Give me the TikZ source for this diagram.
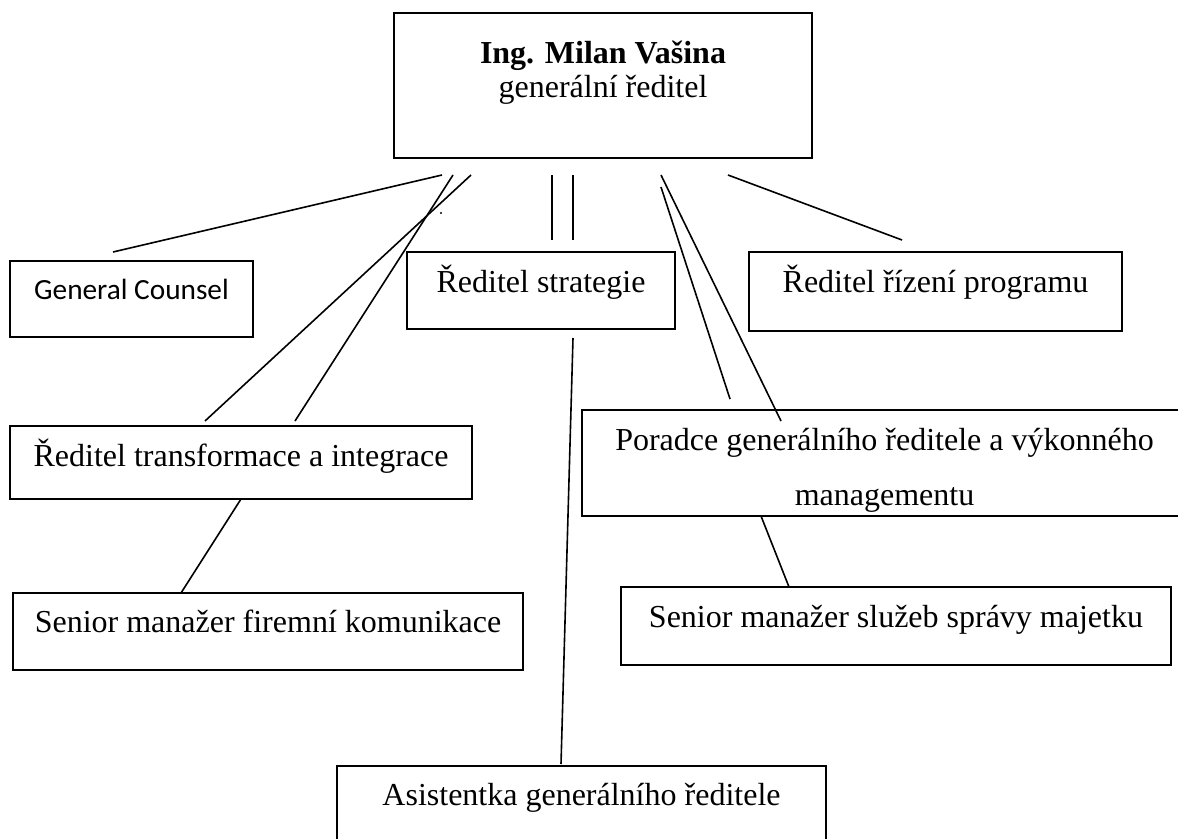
\documentclass[tikz,border=0pt]{standalone}
\usepackage{fontspec}
\setmainfont{Liberation Serif}
\newfontfamily\calibrifont{Carlito}
\begin{document}
\begin{tikzpicture}[x=1pt,y=-1pt,
  box/.style={draw, line width=2pt, inner sep=0pt, outer sep=0pt, anchor=north west},
  lbl/.style={anchor=base, inner sep=0pt, font=\fontsize{32}{34}\selectfont},
  sanslbl/.style={anchor=base, inner sep=0pt, font=\calibrifont\fontsize{29.3}{32}\selectfont},
  conn/.style={line width=1.6pt}]
\useasboundingbox (0,0) rectangle (1178,838);

% boxes
\node[box, minimum width=418pt, minimum height=145pt] (ceo) at (394,13) {};
\node[box, minimum width=243pt, minimum height=76pt] (gc) at (10,261) {};
\node[box, minimum width=268pt, minimum height=77pt] (strat) at (407,252) {};
\node[box, minimum width=373pt, minimum height=79pt] (prog) at (749,252) {};
\node[box, minimum width=462pt, minimum height=73pt] (trans) at (10,426) {};
\node[box, minimum width=605pt, minimum height=106pt] (porad) at (582,410) {};
\node[box, minimum width=510pt, minimum height=77pt] (komun) at (13,593) {};
\node[box, minimum width=550pt, minimum height=78pt] (majet) at (621,587) {};
\node[box, minimum width=489pt, minimum height=110pt] (asist) at (337,766) {};

% texts
\node[lbl, font=\fontsize{32}{34}\selectfont\bfseries] (ceoname) at (603,63) {Ing. Milan Vašina};
\node[lbl] (ceotitle) at (603,97) {generální ředitel};
\node[sanslbl] (gct) at (131.5,299) {General Counsel};
\node[lbl] (stratt) at (541,292) {Ředitel strategie};
\node[lbl] (progt) at (935.5,292) {Ředitel řízení programu};
\node[lbl] (transt) at (241,466) {Ředitel transformace a integrace};
\node[lbl] (poradt1) at (884.5,450) {Poradce generálního ředitele a výkonného};
\node[lbl] (poradt2) at (884.5,505) {managementu};
\node[lbl] (komunt) at (268,632) {Senior manažer firemní komunikace};
\node[lbl] (majett) at (896,627) {Senior manažer služeb správy majetku};
\node[lbl] (asistt) at (581.5,805) {Asistentka generálního ředitele};

% connector end points
\coordinate (gc1) at (442,175);  \coordinate (gc2) at (113,252);
\coordinate (ta1) at (453,175);  \coordinate (ta2) at (295,421);
\coordinate (tb1) at (471,175);  \coordinate (tb2) at (205,421);
\coordinate (sa1) at (552,175);  \coordinate (sa2) at (552,240);
\coordinate (sb1) at (573,175);  \coordinate (sb2) at (573,240);
\coordinate (pa1) at (661,175);  \coordinate (pa2) at (781,421);
\coordinate (pb1) at (661,187);  \coordinate (pb2) at (730,399);
\coordinate (pr1) at (728,175);  \coordinate (pr2) at (902,240);
\coordinate (as1) at (573,338);  \coordinate (as2) at (561,764);
\coordinate (fk1) at (241,499);  \coordinate (fk2) at (181,593);
\coordinate (mj1) at (761,516);  \coordinate (mj2) at (789,587);
\coordinate (dot) at (441,213);

% connectors
\draw[conn] (gc1) -- (gc2);
\draw[conn] (ta1) -- (ta2);
\draw[conn] (tb1) -- (tb2);
\draw[conn] (sa1) -- (sa2);
\draw[conn] (sb1) -- (sb2);
\draw[conn] (pa1) -- (pa2);
\draw[conn] (pb1) -- (pb2);
\draw[conn] (pr1) -- (pr2);
\draw[conn] (as1) -- (as2);
\draw[conn] (fk1) -- (fk2);
\draw[conn] (mj1) -- (mj2);
\fill (dot) circle (1.2pt);
\end{tikzpicture}
\end{document}
